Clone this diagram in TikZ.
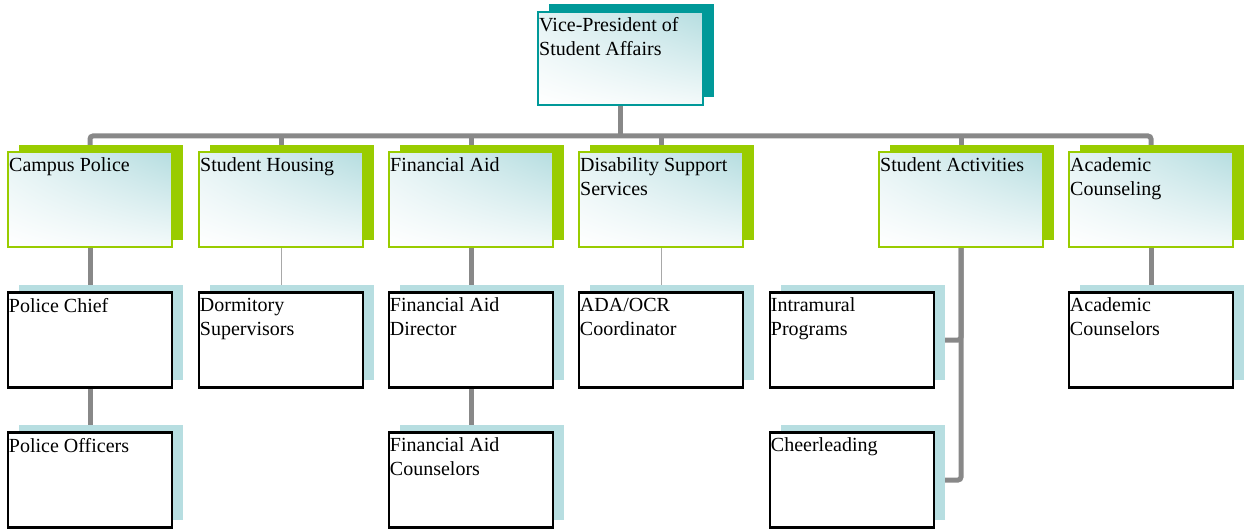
\documentclass[tikz,border=0pt]{standalone}
\usepackage{fontspec}
\setmainfont{Liberation Serif}
\usetikzlibrary{shadows,shadings,backgrounds}
\definecolor{teal0}{HTML}{009999}
\definecolor{grn}{HTML}{99CC00}
\definecolor{lblue}{HTML}{B7DEE1}
\definecolor{conng}{HTML}{888888}
\definecolor{thing}{HTML}{A8A8A8}
\definecolor{grad}{HTML}{B5DDE0}
\tikzset{
 boxbase/.style={minimum width=164pt, minimum height=95pt, inner sep=0pt},
 gradfill/.style={upper right=grad, upper left=grad!35, lower right=grad!15, lower left=white},
 topbox/.style={boxbase, minimum width=165pt, minimum height=93pt, draw=teal0, line width=2pt, gradfill,
   general shadow={shadow xshift=11pt, shadow yshift=8pt, fill=teal0, draw=none}},
 midbox/.style={boxbase, draw=grn, line width=2pt, gradfill,
   general shadow={shadow xshift=11pt, shadow yshift=7pt, fill=grn, draw=none}},
 lowbox/.style={boxbase, draw=black, line width=2.5pt, fill=white,
   general shadow={shadow xshift=11pt, shadow yshift=7.5pt, fill=lblue, draw=none}},
 txt/.style={anchor=north west, font=\fontsize{20}{24}\selectfont, inner xsep=2pt, inner ysep=6.5pt, align=left},
 conn/.style={draw=conng, line width=5pt, rounded corners=3pt},
 thinconn/.style={draw=thing, line width=1pt},
}
\begin{document}
\begin{tikzpicture}[x=1pt,y=-1pt]
\useasboundingbox (0,0) rectangle (1244,529);
% top
\node[topbox] (vp) at (620.5,58.5) {};
\node[txt] (vpt) at (vp.north west) {Vice-President of\\Student Affairs};
% level 2
\node[midbox] (cp) at (90,199.5) {};
\node[txt] (cpt) at (cp.north west) {Campus Police};
\node[midbox] (sh) at (281,199.5) {};
\node[txt] (sht) at (sh.north west) {Student Housing};
\node[midbox] (fa) at (471,199.5) {};
\node[txt] (fat) at (fa.north west) {Financial Aid};
\node[midbox] (ds) at (661,199.5) {};
\node[txt] (dst) at (ds.north west) {Disability Support\\Services};
\node[midbox] (sa) at (961,199.5) {};
\node[txt] (sat) at (sa.north west) {Student Activities};
\node[midbox] (ac) at (1151,199.5) {};
\node[txt] (act) at (ac.north west) {Academic\\Counseling};
% level 3
\node[lowbox] (pc) at (90,340) {};
\node[txt] (pct) at (pc.north west) {Police Chief};
\node[lowbox] (po) at (90,480) {};
\node[txt] (pot) at (po.north west) {Police Officers};
\node[lowbox] (dm) at (281,340) {};
\node[txt] (dmt) at (dm.north west) {Dormitory\\Supervisors};
\node[lowbox] (fd) at (471,340) {};
\node[txt] (fdt) at (fd.north west) {Financial Aid\\Director};
\node[lowbox] (fc) at (471,480) {};
\node[txt] (fct) at (fc.north west) {Financial Aid\\Counselors};
\node[lowbox] (ad) at (661,340) {};
\node[txt] (adt) at (ad.north west) {ADA/OCR\\Coordinator};
\node[lowbox] (im) at (852,340) {};
\node[txt] (imt) at (im.north west) {Intramural\\Programs};
\node[lowbox] (ch) at (852,480) {};
\node[txt] (cht) at (ch.north west) {Cheerleading};
\node[lowbox] (acs) at (1151,340) {};
\node[txt] (acst) at (acs.north west) {Academic\\Counselors};
% connectors
\begin{pgfonlayer}{background}
\coordinate (bus) at (0,136);
\draw[conn] (vp.south) -- (vp.south |- bus);
\draw[conn] (cp.north) -- (cp.north |- bus) -- (ac.north |- bus) -- (ac.north);
\draw[conn] (sh.north) -- (sh.north |- bus);
\draw[conn] (fa.north) -- (fa.north |- bus);
\draw[conn] (ds.north) -- (ds.north |- bus);
\draw[conn] (sa.north) -- (sa.north |- bus);
\draw[conn] (cp.south) -- (pc.north);
\draw[conn] (pc.south) -- (po.north);
\draw[thinconn] (sh.south) -- (dm.north);
\draw[conn] (fa.south) -- (fd.north);
\draw[conn] (fd.south) -- (fc.north);
\draw[thinconn] (ds.south) -- (ad.north);
\draw[conn] (sa.south) |- (im.east);
\draw[conn] (sa.south) |- (ch.east);
\draw[conn] (ac.south) -- (acs.north);
\end{pgfonlayer}
\end{tikzpicture}
\end{document}
